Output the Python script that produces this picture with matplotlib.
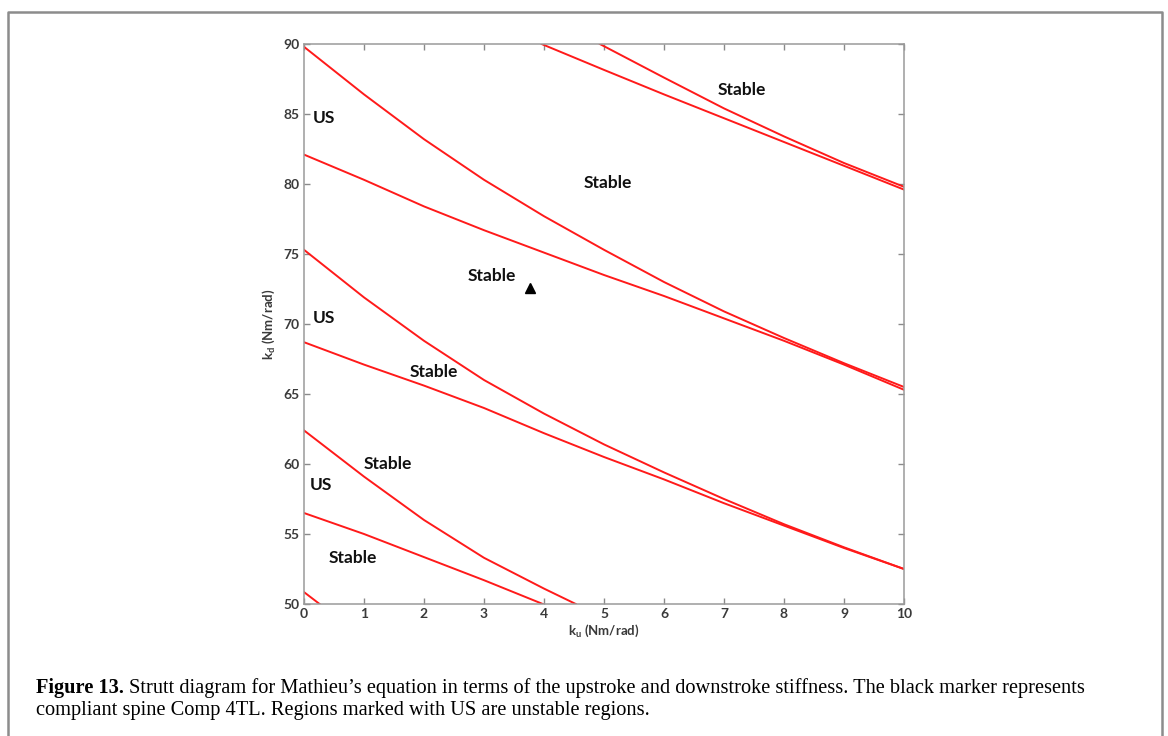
import matplotlib
matplotlib.use("Agg")
import matplotlib.pyplot as plt
from matplotlib.lines import Line2D

plt.rcParams['font.family'] = ['Lato', 'DejaVu Sans']
plt.rcParams['mathtext.fontset'] = 'custom'
plt.rcParams['mathtext.rm'] = 'Lato'
plt.rcParams['mathtext.bf'] = 'Lato:bold'

# boundary curves of the Strutt diagram (k_u, k_d)
ku_a = [0, 1, 2, 3, 4, 5, 6, 7, 8, 9, 10]
kd_a = [89.8, 86.4, 83.2, 80.3, 77.7, 75.3, 73.0, 70.9, 69.0, 67.2, 65.5]

ku_b = [0, 1, 2, 3, 4, 5, 6, 7, 8, 9, 10]
kd_b = [82.1, 80.3, 78.4, 76.7, 75.1, 73.5, 72.0, 70.4, 68.8, 67.1, 65.3]

ku_c = [3.96, 5, 6, 7, 8, 9, 10]
kd_c = [90.0, 88.15, 86.4, 84.7, 83.0, 81.3, 79.6]

ku_d = [4.93, 6, 7, 8, 9, 10]
kd_d = [90.0, 87.6, 85.4, 83.4, 81.5, 79.8]

ku_e = [0, 1, 2, 3, 4, 5, 6, 7, 8, 9, 10]
kd_e = [75.3, 71.9, 68.8, 66.0, 63.6, 61.4, 59.4, 57.5, 55.7, 54.05, 52.5]

ku_f = [0, 1, 2, 3, 4, 5, 6, 7, 8, 9, 10]
kd_f = [68.7, 67.1, 65.6, 64.0, 62.2, 60.5, 58.9, 57.2, 55.6, 54.0, 52.5]

ku_g = [0, 1, 2, 3, 4, 4.53]
kd_g = [62.4, 59.1, 56.0, 53.3, 51.1, 50.0]

ku_h = [0, 1, 2, 3, 3.98]
kd_h = [56.5, 55.0, 53.35, 51.7, 50.0]

ku_i = [0, 0.26]
kd_i = [50.85, 50.0]

curves = [(ku_a, kd_a), (ku_b, kd_b), (ku_c, kd_c), (ku_d, kd_d), (ku_e, kd_e),
          (ku_f, kd_f), (ku_g, kd_g), (ku_h, kd_h), (ku_i, kd_i)]

# region labels
region_text = ['US', 'US', 'US', 'Stable', 'Stable', 'Stable', 'Stable', 'Stable', 'Stable']
region_ku = [0.14, 0.14, 0.10, 5.07, 3.13, 2.17, 1.39, 0.82, 7.30]
region_kd = [84.7, 70.4, 58.5, 80.1, 73.4, 66.6, 60.0, 53.3, 86.7]

# Comp 4TL operating point
comp_ku = [3.76]
comp_kd = [72.55]

xticks = list(range(0, 11))
yticks = list(range(50, 91, 5))

W, H = 1168, 736
fig = plt.figure(figsize=(W / 100, H / 100), dpi=100)
ax = fig.add_axes([304 / W, (H - 604) / H, 600 / W, 560 / H])

for ku, kd in curves:
    ax.plot(ku, kd, color='#ff1a1a', lw=1.4)

ax.plot(comp_ku, comp_kd, marker='^', color='black', ms=7, ls='none')

for t, x, y in zip(region_text, region_ku, region_kd):
    ha = 'left' if t == 'US' else 'center'
    ax.text(x, y, t, ha=ha, va='center', fontsize=12.5, fontweight='bold', color='#111111')

ax.set_xlim(0, 10)
ax.set_ylim(50, 90)
ax.set_xticks(xticks)
ax.set_yticks(yticks)
ax.tick_params(direction='in', length=4, width=1, color='#8a8a8a',
               top=True, right=True, labelsize=10, labelcolor='#3a3a3a', pad=3)
for lab in ax.get_xticklabels() + ax.get_yticklabels():
    lab.set_fontweight('bold')
for sp in ax.spines.values():
    sp.set_color('#9a9a9a')
    sp.set_linewidth(1.1)

ax.set_xlabel(r'k$_\mathbf{u}$ (Nm/rad)', fontsize=9.5, fontweight='bold', color='#3a3a3a')
ax.set_ylabel(r'k$_\mathbf{d}$ (Nm/rad)', fontsize=9.5, fontweight='bold', color='#3a3a3a')
ax.xaxis.set_label_coords(0.5, -0.034)
ax.yaxis.set_label_coords(-0.045, 0.5)

# page frame around figure and caption
fx = [8 / W, 8 / W, 1162 / W, 1162 / W]
fy = [0, 1 - 12 / H, 1 - 12 / H, 0]
fig.add_artist(Line2D(fx, fy, transform=fig.transFigure, color='#8c8c8c', lw=1.8))

cap_font = 'Liberation Serif'
cap_size = 14.7
t1 = fig.text(36 / W, 1 - 688 / H, 'Figure 13.', fontsize=cap_size, fontweight='bold',
              family=cap_font, va='center', ha='left')
renderer = fig.canvas.get_renderer()
bb = t1.get_window_extent(renderer)
fig.text((bb.x1 + 5) / W, 1 - 688 / H,
         'Strutt diagram for Mathieu\u2019s equation in terms of the upstroke and downstroke '
         'stiffness. The black marker represents',
         fontsize=cap_size, family=cap_font, va='center', ha='left')
fig.text(36 / W, 1 - 711 / H,
         'compliant spine Comp 4TL. Regions marked with US are unstable regions.',
         fontsize=cap_size, family=cap_font, va='center', ha='left')

fig.savefig('out.png', dpi=100)
